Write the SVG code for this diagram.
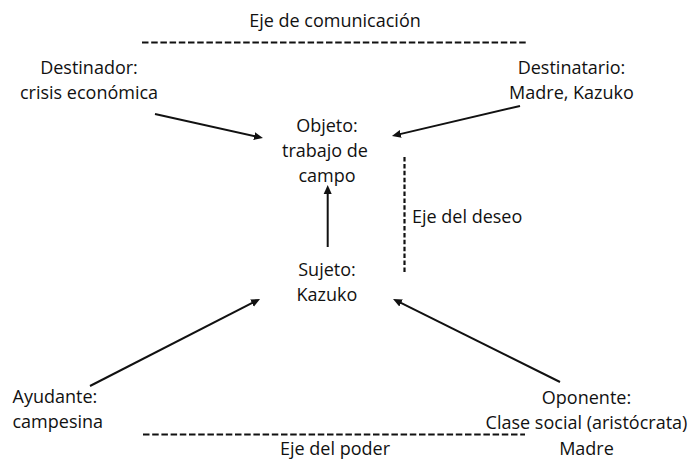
<svg xmlns="http://www.w3.org/2000/svg" width="691" height="459" viewBox="0 0 691 459">
<style>
  text { font-family: "Open Sans", "DejaVu Sans", sans-serif; font-size: 18px; fill: #111; }
  .c { text-anchor: middle; }
  .arrow { stroke: #111; stroke-width: 2; fill: none; marker-end: url(#ah); }
  .axis { stroke: #111; stroke-width: 2.2; fill: none; stroke-dasharray: 6.5 2.7; }
  .vaxis { stroke: #111; stroke-width: 2.2; fill: none; stroke-dasharray: 4.5 2.4; }
</style>
<defs>
  <marker id="ah" markerUnits="userSpaceOnUse" markerWidth="10" markerHeight="10" viewBox="0 -5 10 10" refX="3" refY="0" orient="auto">
    <path d="M0,-4 L9,0 L0,4 z" fill="#111"/>
  </marker>
</defs>
<rect width="691" height="459" fill="#fff"/>
<g id="eje-comunicacion">
  <text class="c" x="335" y="27">Eje de comunicación</text>
  <line class="axis" x1="142" y1="42.5" x2="527" y2="42.5"/>
</g>
<g id="destinador">
  <text class="c" x="89" y="74">Destinador:</text>
  <text class="c" x="89" y="99">crisis económica</text>
</g>
<g id="destinatario">
  <text class="c" x="571.5" y="74">Destinatario:</text>
  <text class="c" x="571.5" y="99">Madre, Kazuko</text>
</g>
<g id="objeto">
  <text class="c" x="327" y="131.7">Objeto:</text>
  <text class="c" x="325" y="156.7">trabajo de</text>
  <text class="c" x="327" y="181.7">campo</text>
</g>
<g id="eje-deseo">
  <line class="vaxis" x1="404.5" y1="157" x2="404.5" y2="273"/>
  <text x="412" y="223">Eje del deseo</text>
</g>
<g id="sujeto">
  <text class="c" x="327" y="276">Sujeto:</text>
  <text class="c" x="327" y="301">Kazuko</text>
</g>
<g id="ayudante">
  <text x="12.5" y="403">Ayudante:</text>
  <text x="12.5" y="428">campesina</text>
</g>
<g id="oponente">
  <text class="c" x="586.5" y="404">Oponente:</text>
  <text class="c" x="586.5" y="428.5">Clase social (aristócrata)</text>
  <text class="c" x="586.5" y="455">Madre</text>
</g>
<g id="eje-poder">
  <line class="axis" x1="143" y1="434.5" x2="525" y2="434.5"/>
  <text class="c" x="335" y="455">Eje del poder</text>
</g>
<g id="connectors">
  <line class="arrow" x1="155" y1="114" x2="257.1" y2="136.7"/>
  <line class="arrow" x1="520" y1="106" x2="397.8" y2="134.6"/>
  <line class="arrow" x1="327.7" y1="247" x2="327.7" y2="191"/>
  <line class="arrow" x1="90" y1="386" x2="254.7" y2="301.7"/>
  <line class="arrow" x1="560" y1="382" x2="398.4" y2="301.7"/>
</g>
</svg>
